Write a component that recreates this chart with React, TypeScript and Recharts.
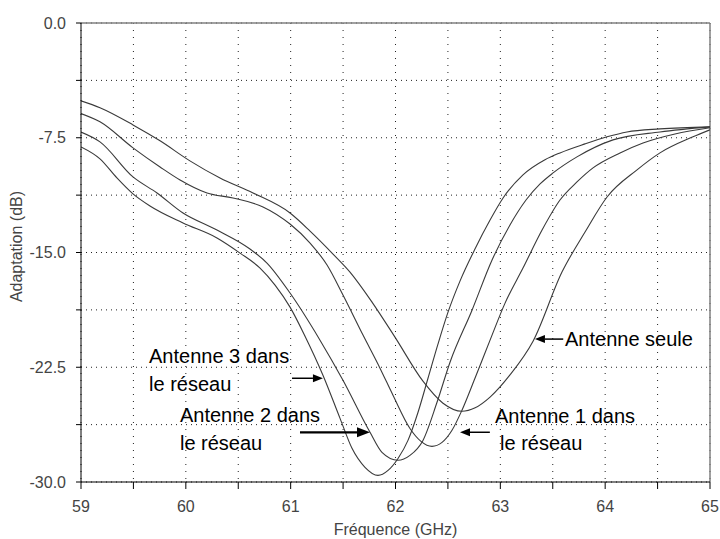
import React from 'react'
import { LineChart, Line, XAxis, YAxis, CartesianGrid, ReferenceLine, ReferenceDot } from 'recharts'

// Antenne seule
const freqSeule = [59, 59.181, 59.496, 59.754, 60.039, 60.326, 60.641, 60.994, 61.185, 61.404, 61.566, 61.776, 61.995, 62.262, 62.453, 62.634, 62.76, 62.902, 63.092, 63.312, 63.588, 63.808, 64.018, 64.304, 64.523, 64.838, 65]
const dbSeule = [-5.09, -5.54, -6.66, -7.7, -9.01, -10.13, -11.11, -12.42, -13.6, -15.1, -16.28, -18.24, -20.53, -23.41, -24.85, -25.38, -25.15, -24.45, -23.0, -20.8, -16.28, -13.66, -11.37, -9.6, -8.49, -7.44, -6.98]

// Antenne 1 dans le réseau
const freqAnt1 = [59, 59.181, 59.496, 59.754, 59.945, 60.202, 60.45, 60.736, 60.994, 61.185, 61.347, 61.499, 61.69, 61.852, 61.976, 62.138, 62.243, 62.348, 62.444, 62.539, 62.634, 62.758, 62.902, 63.045, 63.216, 63.398, 63.569, 63.731, 63.884, 64.142, 64.361, 64.666, 65]
const dbAnt1 = [-5.92, -6.46, -8.16, -9.41, -10.26, -11.11, -11.44, -12.02, -13.14, -14.38, -15.82, -17.78, -20.4, -22.56, -24.33, -26.5, -27.34, -27.67, -27.41, -26.62, -25.31, -23.22, -20.73, -18.31, -16.02, -13.53, -11.57, -10.39, -9.47, -8.49, -7.84, -7.25, -6.85]

// Antenne 2 dans le réseau
const freqAnt2 = [59, 59.181, 59.496, 59.725, 59.973, 60.297, 60.612, 60.774, 60.994, 61.28, 61.499, 61.757, 61.871, 62.024, 62.138, 62.262, 62.396, 62.52, 62.73, 62.921, 63.092, 63.245, 63.379, 63.503, 63.731, 64.075, 64.523, 65]
const dbAnt2 = [-7.13, -7.77, -10.06, -11.11, -12.42, -13.53, -14.77, -15.69, -17.65, -20.73, -23.35, -26.75, -28.06, -28.58, -28.26, -27.28, -24.79, -22.17, -18.77, -15.49, -13.2, -11.57, -10.52, -9.8, -8.75, -7.64, -7.12, -6.79]

// Antenne 3 dans le réseau
const freqAnt3 = [59, 59.181, 59.343, 59.496, 59.658, 59.973, 60.297, 60.517, 60.708, 60.851, 60.994, 61.137, 61.308, 61.471, 61.585, 61.709, 61.833, 61.929, 62.024, 62.119, 62.215, 62.31, 62.405, 62.501, 62.615, 62.758, 62.902, 63.026, 63.216, 63.426, 63.569, 63.808, 64.018, 64.208, 64.523, 65]
const dbAnt3 = [-8.1, -8.88, -10.13, -11.17, -11.96, -13.07, -14.05, -15.04, -16.02, -17.13, -18.57, -20.47, -23.02, -25.84, -27.8, -29.04, -29.57, -29.24, -28.46, -27.28, -25.44, -23.22, -20.99, -18.9, -16.87, -14.77, -12.88, -11.44, -9.93, -8.94, -8.49, -7.9, -7.44, -7.12, -6.92, -6.79]

const xTicks = [59, 59.5, 60, 60.5, 61, 61.5, 62, 62.5, 63, 63.5, 64, 64.5, 65]
const yTicks = [0, -3.75, -7.5, -11.25, -15, -18.75, -22.5, -26.25, -30]

// annotation texts (left edge, baseline) in data units
const labels = [
  { f: 63.617, db: -21.12, text: 'Antenne seule' },
  { f: 62.949, db: -26.14, text: 'Antenne 1 dans' },
  { f: 62.997, db: -27.93, text: 'le réseau' },
  { f: 59.649, db: -22.22, text: 'Antenne 3 dans' },
  { f: 59.649, db: -24.07, text: 'le réseau' },
  { f: 59.944, db: -26.08, text: 'Antenne 2 dans' },
  { f: 59.944, db: -27.93, text: 'le réseau' },
]

// arrows: tail -> tip
const arrows = [
  { from: 63.6, to: 63.33, db: -20.66, w: 1.5 },
  { from: 62.9, to: 62.615, db: -26.75, w: 1.5 },
  { from: 61.013, to: 61.308, db: -23.22, w: 1.5 },
  { from: 61.089, to: 61.757, db: -26.75, w: 2.2 },
]

const zip = (f: number[], d: number[]) => f.map((v, i) => ({ f: v, db: d[i] }))

const series = [
  { name: 'Antenne seule', data: zip(freqSeule, dbSeule) },
  { name: 'Antenne 1 dans le réseau', data: zip(freqAnt1, dbAnt1) },
  { name: 'Antenne 2 dans le réseau', data: zip(freqAnt2, dbAnt2) },
  { name: 'Antenne 3 dans le réseau', data: zip(freqAnt3, dbAnt3) },
]

const FONT = '"Liberation Sans", Arial, sans-serif'

const ArrowShape = (w: number) => (props: any) => {
  const { x1, y1, x2, y2 } = props
  const dx = x2 - x1
  const dy = y2 - y1
  const len = Math.sqrt(dx * dx + dy * dy) || 1
  const ux = dx / len
  const uy = dy / len
  const head = w > 2 ? 13 : 10
  const half = w > 2 ? 5 : 4
  const bx = x2 - ux * head
  const by = y2 - uy * head
  return (
    <g>
      <line x1={x1} y1={y1} x2={bx} y2={by} stroke="#000" strokeWidth={w} />
      <polygon
        points={`${x2},${y2} ${bx - uy * half},${by + ux * half} ${bx + uy * half},${by - ux * half}`}
        fill="#000"
      />
    </g>
  )
}

export default function App() {
  return (
    <div style={{ position: 'absolute', left: 0, top: 0, width: 720, height: 539, background: '#fff', fontFamily: FONT }}>
      <LineChart width={720} height={539} margin={{ top: 23, right: 10, left: 0, bottom: 0 }}>
        <CartesianGrid horizontal={true} vertical={false} stroke="#222" strokeDasharray="1 4" />
        <CartesianGrid horizontal={false} vertical={true} stroke="#222" strokeDasharray="1 6" />
        <XAxis
          dataKey="f"
          type="number"
          domain={[59, 65]}
          ticks={xTicks}
          allowDataOverflow
          height={57}
          tickSize={7}
          tickMargin={12}
          stroke="#000"
          tick={{ fill: '#444', fontSize: 16, fontFamily: FONT }}
          tickFormatter={(v: number) => (Number.isInteger(v) ? String(v) : '')}
          label={{
            content: (p: any) => {
              const vb = p.viewBox || {}
              return (
                <text x={vb.x + vb.width / 2} y={vb.y + 53} textAnchor="middle" fill="#444" fontSize={16} fontFamily={FONT}>
                  Fréquence (GHz)
                </text>
              )
            },
          }}
        />
        <YAxis
          type="number"
          domain={[-30, 0]}
          ticks={yTicks}
          allowDataOverflow
          width={81}
          tickSize={5}
          tickMargin={10}
          stroke="#000"
          tick={{ fill: '#444', fontSize: 16, fontFamily: FONT }}
          tickFormatter={(v: number) => (Math.abs(v % 7.5) < 1e-9 ? v.toFixed(1) : '')}
          label={{
            content: (p: any) => {
              const vb = p.viewBox || {}
              const cy = vb.y + vb.height / 2 - 6
              return (
                <text x={22} y={cy} transform={`rotate(-90 22 ${cy})`} textAnchor="middle" fill="#444" fontSize={16} fontFamily={FONT}>
                  Adaptation (dB)
                </text>
              )
            },
          }}
        />
        <ReferenceLine y={0} stroke="#808080" strokeWidth={1.5} />
        <ReferenceLine x={65} stroke="#808080" strokeWidth={1.5} />
        {series.map((s) => (
          <Line
            key={s.name}
            name={s.name}
            data={s.data}
            dataKey="db"
            type="monotone"
            stroke="#3a3a3a"
            strokeWidth={1.1}
            dot={false}
            isAnimationActive={false}
          />
        ))}
        {arrows.map((a, i) => (
          <ReferenceLine
            key={`arrow-${i}`}
            segment={[{ x: a.from, y: a.db }, { x: a.to, y: a.db }]}
            shape={ArrowShape(a.w)}
          />
        ))}
        {labels.map((l, i) => (
          <ReferenceDot
            key={`label-${i}`}
            x={l.f}
            y={l.db}
            r={0}
            shape={(p: any) => (
              <text x={p.cx} y={p.cy} fill="#000" fontSize={20} fontFamily={FONT}>
                {l.text}
              </text>
            )}
          />
        ))}
      </LineChart>
    </div>
  )
}
